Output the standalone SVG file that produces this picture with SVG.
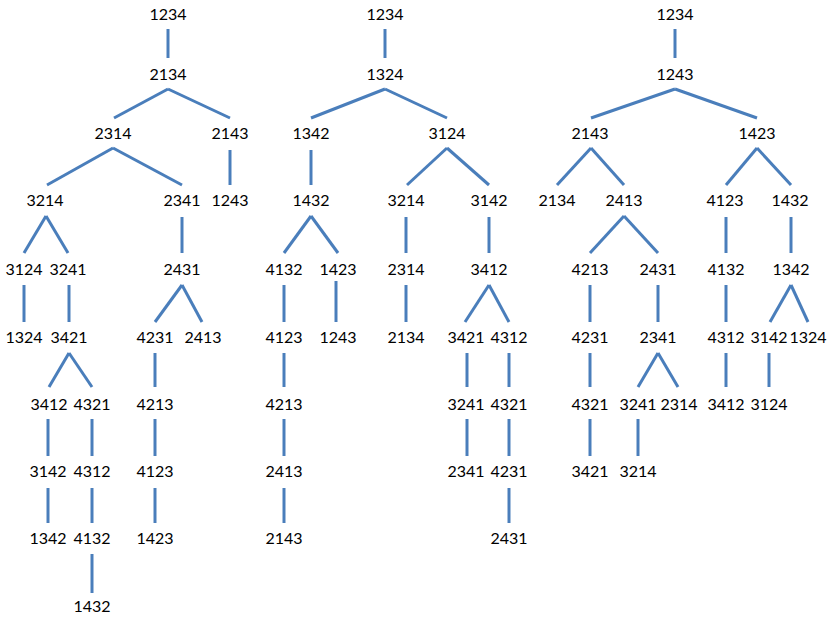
<svg xmlns="http://www.w3.org/2000/svg" width="827" height="620" viewBox="0 0 827 620">
<style>
text{font-family:Lato,"Open Sans","Liberation Sans",sans-serif;font-size:16px;fill:#000;text-anchor:middle}
.c line{stroke:#4A7EBB;stroke-width:3;stroke-linecap:butt;fill:none}
</style>
<rect width="827" height="620" fill="#fff"/>
<g class="c" id="connectors">
<line x1="168" y1="29" x2="168" y2="58"/>
<line x1="168" y1="89" x2="114" y2="118"/>
<line x1="168" y1="89" x2="230" y2="118"/>
<line x1="113" y1="148" x2="47" y2="185"/>
<line x1="113" y1="148" x2="182" y2="185"/>
<line x1="230" y1="150" x2="230" y2="185"/>
<line x1="46" y1="216" x2="24" y2="253"/>
<line x1="46" y1="216" x2="68" y2="253"/>
<line x1="182" y1="217" x2="182" y2="253"/>
<line x1="24" y1="285" x2="24" y2="322"/>
<line x1="69" y1="285" x2="69" y2="322"/>
<line x1="182" y1="285" x2="155" y2="322"/>
<line x1="182" y1="285" x2="202" y2="322"/>
<line x1="69" y1="353" x2="49" y2="387"/>
<line x1="69" y1="353" x2="92" y2="387"/>
<line x1="155" y1="353" x2="155" y2="387"/>
<line x1="48" y1="419" x2="48" y2="456"/>
<line x1="92" y1="419" x2="92" y2="456"/>
<line x1="155" y1="419" x2="155" y2="456"/>
<line x1="48" y1="488" x2="48" y2="523"/>
<line x1="92" y1="488" x2="92" y2="523"/>
<line x1="155" y1="488" x2="155" y2="523"/>
<line x1="92" y1="554" x2="92" y2="593"/>
<line x1="385" y1="29" x2="385" y2="58"/>
<line x1="385" y1="89" x2="311" y2="118"/>
<line x1="385" y1="89" x2="447" y2="118"/>
<line x1="311" y1="150" x2="311" y2="185"/>
<line x1="447" y1="148" x2="407" y2="185"/>
<line x1="447" y1="148" x2="489" y2="185"/>
<line x1="311" y1="216" x2="284" y2="253"/>
<line x1="311" y1="216" x2="338" y2="253"/>
<line x1="406" y1="217" x2="406" y2="253"/>
<line x1="489" y1="217" x2="489" y2="253"/>
<line x1="284" y1="285" x2="284" y2="322"/>
<line x1="336" y1="281" x2="336" y2="322"/>
<line x1="406" y1="285" x2="406" y2="322"/>
<line x1="489" y1="285" x2="465" y2="322"/>
<line x1="489" y1="285" x2="509" y2="322"/>
<line x1="284" y1="353" x2="284" y2="387"/>
<line x1="467" y1="353" x2="467" y2="387"/>
<line x1="509" y1="353" x2="509" y2="387"/>
<line x1="284" y1="419" x2="284" y2="456"/>
<line x1="467" y1="419" x2="467" y2="456"/>
<line x1="509" y1="419" x2="509" y2="456"/>
<line x1="284" y1="488" x2="284" y2="523"/>
<line x1="509" y1="488" x2="509" y2="523"/>
<line x1="675" y1="29" x2="675" y2="58"/>
<line x1="675" y1="89" x2="591" y2="118"/>
<line x1="675" y1="89" x2="757" y2="118"/>
<line x1="591" y1="148" x2="557" y2="185"/>
<line x1="591" y1="148" x2="624" y2="185"/>
<line x1="757" y1="148" x2="726" y2="185"/>
<line x1="757" y1="148" x2="791" y2="185"/>
<line x1="624" y1="216" x2="590" y2="253"/>
<line x1="624" y1="216" x2="658" y2="253"/>
<line x1="726" y1="217" x2="726" y2="253"/>
<line x1="791" y1="217" x2="791" y2="253"/>
<line x1="590" y1="285" x2="590" y2="322"/>
<line x1="658" y1="285" x2="658" y2="322"/>
<line x1="726" y1="285" x2="726" y2="322"/>
<line x1="791" y1="285" x2="770" y2="322"/>
<line x1="791" y1="285" x2="808" y2="322"/>
<line x1="590" y1="353" x2="590" y2="387"/>
<line x1="658" y1="353" x2="638" y2="387"/>
<line x1="658" y1="353" x2="678" y2="387"/>
<line x1="726" y1="353" x2="726" y2="387"/>
<line x1="769" y1="353" x2="769" y2="387"/>
<line x1="590" y1="419" x2="590" y2="456"/>
<line x1="638" y1="419" x2="638" y2="456"/>
</g>
<g id="a1"><text x="168" y="20">1234</text></g>
<g id="a2"><text x="168" y="80">2134</text></g>
<g id="a3"><text x="113" y="139">2314</text></g>
<g id="a4"><text x="230" y="139">2143</text></g>
<g id="a5"><text x="45" y="206">3214</text></g>
<g id="a6"><text x="182" y="206">2341</text></g>
<g id="a7"><text x="230" y="206">1243</text></g>
<g id="a8"><text x="24" y="275">3124</text></g>
<g id="a9"><text x="68" y="275">3241</text></g>
<g id="a10"><text x="182" y="275">2431</text></g>
<g id="a11"><text x="24" y="343">1324</text></g>
<g id="a12"><text x="69" y="343">3421</text></g>
<g id="a13"><text x="155" y="343">4231</text></g>
<g id="a14"><text x="203" y="343">2413</text></g>
<g id="a15"><text x="49" y="410">3412</text></g>
<g id="a16"><text x="92" y="410">4321</text></g>
<g id="a17"><text x="155" y="410">4213</text></g>
<g id="a18"><text x="48" y="477">3142</text></g>
<g id="a19"><text x="92" y="477">4312</text></g>
<g id="a20"><text x="155" y="477">4123</text></g>
<g id="a21"><text x="48" y="544">1342</text></g>
<g id="a22"><text x="92" y="544">4132</text></g>
<g id="a23"><text x="155" y="544">1423</text></g>
<g id="a24"><text x="92" y="612">1432</text></g>
<g id="b1"><text x="385" y="20">1234</text></g>
<g id="b2"><text x="385" y="80">1324</text></g>
<g id="b3"><text x="311" y="139">1342</text></g>
<g id="b4"><text x="447" y="139">3124</text></g>
<g id="b5"><text x="311" y="206">1432</text></g>
<g id="b6"><text x="406" y="206">3214</text></g>
<g id="b7"><text x="489" y="206">3142</text></g>
<g id="b8"><text x="284" y="275">4132</text></g>
<g id="b9"><text x="338" y="275">1423</text></g>
<g id="b10"><text x="406" y="275">2314</text></g>
<g id="b11"><text x="489" y="275">3412</text></g>
<g id="b12"><text x="284" y="343">4123</text></g>
<g id="b13"><text x="338" y="343">1243</text></g>
<g id="b14"><text x="406" y="343">2134</text></g>
<g id="b15"><text x="466" y="343">3421</text></g>
<g id="b16"><text x="509" y="343">4312</text></g>
<g id="b17"><text x="284" y="410">4213</text></g>
<g id="b18"><text x="466" y="410">3241</text></g>
<g id="b19"><text x="509" y="410">4321</text></g>
<g id="b20"><text x="284" y="477">2413</text></g>
<g id="b21"><text x="466" y="477">2341</text></g>
<g id="b22"><text x="509" y="477">4231</text></g>
<g id="b23"><text x="284" y="544">2143</text></g>
<g id="b24"><text x="509" y="544">2431</text></g>
<g id="c1"><text x="675" y="20">1234</text></g>
<g id="c2"><text x="675" y="80">1243</text></g>
<g id="c3"><text x="590" y="139">2143</text></g>
<g id="c4"><text x="757" y="139">1423</text></g>
<g id="c5"><text x="557" y="206">2134</text></g>
<g id="c6"><text x="624" y="206">2413</text></g>
<g id="c7"><text x="725" y="206">4123</text></g>
<g id="c8"><text x="790" y="206">1432</text></g>
<g id="c9"><text x="590" y="275">4213</text></g>
<g id="c10"><text x="658" y="275">2431</text></g>
<g id="c11"><text x="726" y="275">4132</text></g>
<g id="c12"><text x="791" y="275">1342</text></g>
<g id="c13"><text x="590" y="343">4231</text></g>
<g id="c14"><text x="658" y="343">2341</text></g>
<g id="c15"><text x="726" y="343">4312</text></g>
<g id="c16"><text x="769" y="343">3142</text></g>
<g id="c17"><text x="808" y="343">1324</text></g>
<g id="c18"><text x="590" y="410">4321</text></g>
<g id="c19"><text x="638" y="410">3241</text></g>
<g id="c20"><text x="679" y="410">2314</text></g>
<g id="c21"><text x="726" y="410">3412</text></g>
<g id="c22"><text x="769" y="410">3124</text></g>
<g id="c23"><text x="590" y="477">3421</text></g>
<g id="c24"><text x="638" y="477">3214</text></g>
</svg>
